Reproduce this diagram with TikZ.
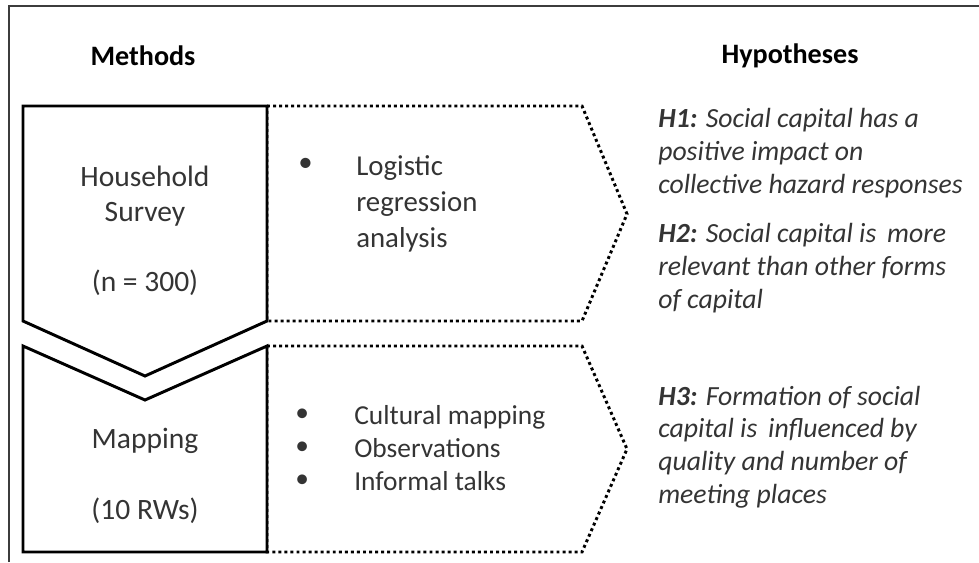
\documentclass[tikz,border=0pt]{standalone}
\usepackage{fontspec}
\setmainfont{Carlito}
\definecolor{txtgray}{RGB}{52,52,52}
\definecolor{framegray}{RGB}{60,60,60}
\begin{document}
\begin{tikzpicture}[x=0.025cm,y=-0.025cm,
  solidbox/.style={draw=black,line width=2.1pt,line join=miter,fill=white},
  dotbox/.style={draw=black,line width=2.1pt,dash pattern=on 2.1pt off 2.2pt},
  frameline/.style={draw=framegray,line width=1.4pt},
  header/.style={font=\fontsize{20}{24}\selectfont\bfseries,text=black,inner sep=0pt},
  methtxt/.style={font=\fontsize{21}{25}\selectfont,text=txtgray,align=center,inner sep=0pt},
  listtxt/.style={font=\fontsize{20.5}{25.6}\selectfont,text=txtgray,align=left,inner sep=0pt,anchor=west},
  smalllist/.style={font=\fontsize{19.5}{23.5}\selectfont,text=txtgray,align=left,inner sep=0pt,anchor=west},
  hyptxt/.style={font=\fontsize{19.7}{23.3}\selectfont\itshape,text=txtgray,align=left,inner sep=0pt,anchor=west}
]
\useasboundingbox (0,0) rectangle (979,562);
% frame
\coordinate (f1) at (9,562);
\coordinate (f2) at (9,6);
\coordinate (f3) at (979,6);
\draw[frameline] (f1) -- (f2) -- (f3);

% headers
\node[header] (methods) at (143,56) {Methods};
\node[header] (hyp) at (790,56) {Hypotheses};

% dotted pentagons
\coordinate (p1a) at (267,106);
\coordinate (p1b) at (582,106);
\coordinate (p1c) at (627,214);
\coordinate (p1d) at (582,321);
\coordinate (p1e) at (267,321);
\draw[dotbox] (p1a) -- (p1b) -- (p1c) -- (p1d) -- (p1e) -- cycle;
\coordinate (p2a) at (267,346);
\coordinate (p2b) at (582,346);
\coordinate (p2c) at (627,449);
\coordinate (p2d) at (582,552);
\coordinate (p2e) at (267,552);
\draw[dotbox] (p2a) -- (p2b) -- (p2c) -- (p2d) -- (p2e) -- cycle;

% solid chevrons
\coordinate (c1a) at (23,106);
\coordinate (c1b) at (267,106);
\coordinate (c1c) at (267,321);
\coordinate (c1d) at (145,376);
\coordinate (c1e) at (23,321);
\draw[solidbox] (c1a) -- (c1b) -- (c1c) -- (c1d) -- (c1e) -- cycle;
\coordinate (c2a) at (23,346);
\coordinate (c2b) at (145,400);
\coordinate (c2c) at (267,346);
\coordinate (c2d) at (267,552);
\coordinate (c2e) at (23,552);
\draw[solidbox] (c2a) -- (c2b) -- (c2c) -- (c2d) -- (c2e) -- cycle;

% method labels
\node[methtxt] (hh) at (145,231) {Household\\Survey\\[25pt](n = 300)};
\node[methtxt] (map) at (145,476) {Mapping\\[25pt](10 RWs)};

% upper list
\node[listtxt] (b1) at (298,165) {\textbullet};
\node[listtxt] (logit) at (356,204) {Logistic\\regression\\analysis};

% lower list
\node[smalllist] (b2) at (295,448) {\textbullet\\\textbullet\\\textbullet};
\node[smalllist] (l2) at (354,448) {Cultural mapping\\Observations\\Informal talks};

% hypotheses
\node[hyptxt] (h1) at (658,153) {\textbf{H1:} Social capital has a\\positive impact on\\collective hazard responses};
\node[hyptxt] (h2) at (658,268) {\textbf{H2:} Social capital is\, more\\relevant than other forms\\of capital};
\node[hyptxt] (h3) at (658,447) {\textbf{H3:} Formation of social\\capital is\, influenced by\\quality and number of\\meeting places};
\end{tikzpicture}
\end{document}
